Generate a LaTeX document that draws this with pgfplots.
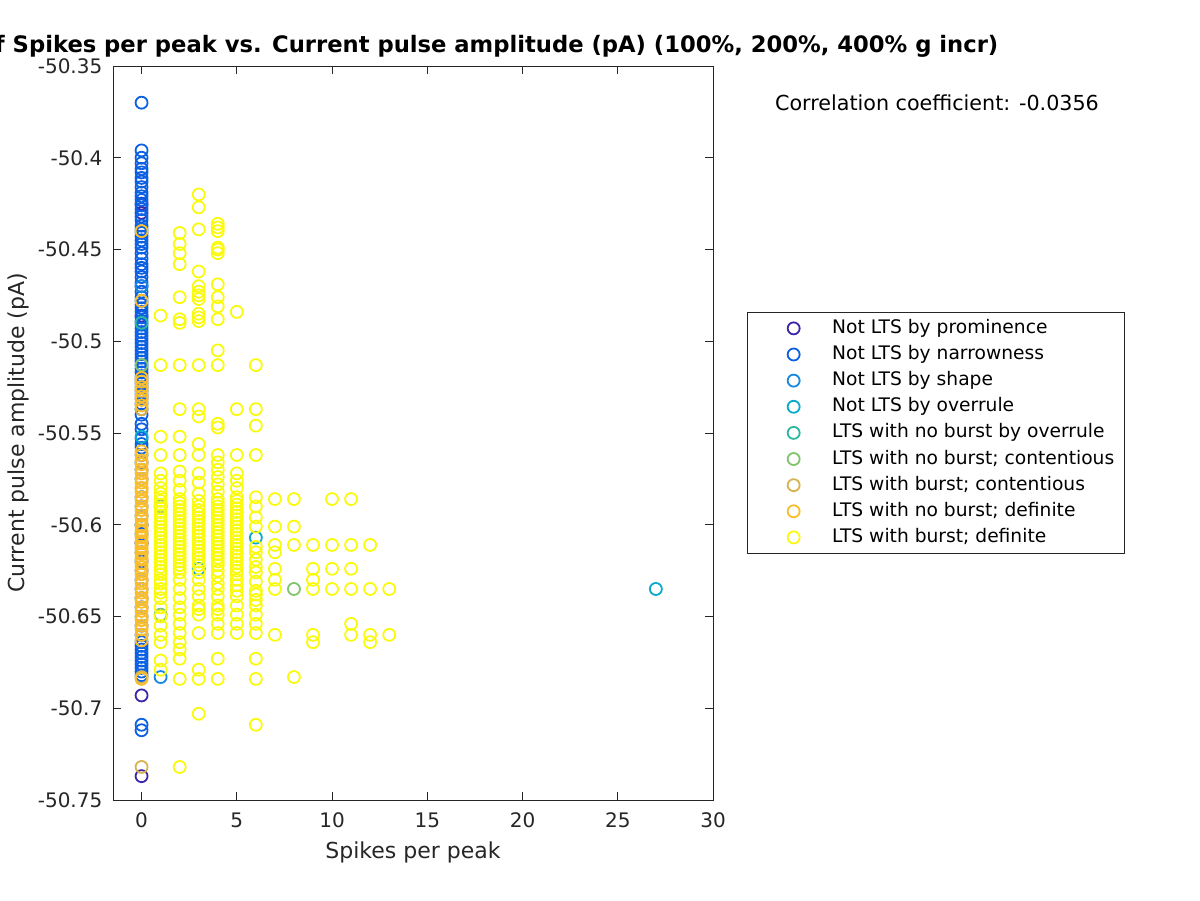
\documentclass[border=0pt]{standalone}
\usepackage{fontspec}
\setmainfont{DejaVu Sans}
\usepackage{pgfplots}
\pgfplotsset{compat=1.18}
\definecolor{cA}{RGB}{62,38,168}
\definecolor{cB}{RGB}{12,96,226}
\definecolor{cC}{RGB}{24,136,224}
\definecolor{cD}{RGB}{10,170,205}
\definecolor{cE}{RGB}{45,183,160}
\definecolor{cF}{RGB}{130,195,110}
\definecolor{cG}{RGB}{215,180,80}
\definecolor{cH}{RGB}{250,190,45}
\definecolor{cI}{RGB}{250,250,15}
\definecolor{axgray}{RGB}{38,38,38}
\begin{document}
\begin{tikzpicture}
\useasboundingbox (0,0) rectangle (900pt,675pt);
\clip (0,0) rectangle (900pt,675pt);
\begin{axis}[
  scale only axis,
  width=450pt, height=550.5pt,
  at={(84.75pt,75pt)}, anchor=south west,
  xmin=-1.5, xmax=30, ymin=-50.75, ymax=-50.35,
  xtick={0,5,...,30},
  ytick={-50.75,-50.7,-50.65,-50.6,-50.55,-50.5,-50.45,-50.4,-50.35},
  yticklabels={-50.75,-50.7,-50.65,-50.6,-50.55,-50.5,-50.45,-50.4,-50.35},
  scaled ticks=false,
  /pgf/number format/assume math mode=true,
  tick label style={font=\fontsize{15}{18}\selectfont, text=axgray},
  yticklabel style={xshift=-4.5pt},
  xticklabel style={yshift=-6pt},
  axis line style={axgray, line width=0.6pt},
  major tick style={axgray, line width=0.6pt},
  major tick length=6pt,
  xlabel={Spikes per peak},
  ylabel={Current pulse amplitude (pA)},
  label style={font=\fontsize{16.5}{19}\selectfont, text=axgray},
  xlabel style={at={(axis description cs:0.5,-0.0708)}, anchor=center},
  ylabel style={at={(axis description cs:-0.1583,0.5)}, anchor=center},
  every axis plot/.append style={only marks, mark=o, mark size=4.5pt, line width=1.35pt,
    legend image code/.code={\path (0pt,0pt) (53pt,0pt); \draw[##1] plot coordinates {(26.5pt,0pt)};}},
  legend cell align=left,
  legend style={at={(1.0567,0.6649)}, anchor=north west, draw=axgray, line width=0.6pt,
    font=\fontsize{14}{16}\selectfont, inner xsep=7.5pt, inner ysep=5.25pt,
    nodes={inner sep=0pt, text height=10.5pt, text depth=3pt}, row sep=6.1pt,
    /tikz/every odd column/.append style={column sep=1.75pt}},
]
% Not LTS by prominence
\addplot[cA] coordinates {(0,-50.425)(0,-50.430)(0,-50.486)(0,-50.610)(0,-50.693)(0,-50.737)};
% Not LTS by narrowness
\addplot[cB] coordinates {
(0,-50.370)(0,-50.396)(0,-50.400)(0,-50.403)(0,-50.406)(0,-50.408)(0,-50.411)(0,-50.413)(0,-50.416)
(0,-50.419)(0,-50.421)(0,-50.423)(0,-50.426)(0,-50.428)(0,-50.432)(0,-50.434)(0,-50.437)(0,-50.439)
(0,-50.441)(0,-50.443)(0,-50.445)(0,-50.447)(0,-50.449)(0,-50.452)(0,-50.455)(0,-50.458)(0,-50.460)
(0,-50.462)(0,-50.465)(0,-50.468)(0,-50.470)(0,-50.473)(0,-50.476)(0,-50.478)(0,-50.480)(0,-50.482)
(0,-50.484)(0,-50.487)(0,-50.489)(0,-50.491)(0,-50.493)(0,-50.495)(0,-50.497)(0,-50.499)(0,-50.501)
(0,-50.503)(0,-50.505)(0,-50.507)(0,-50.509)(0,-50.511)(0,-50.513)(0,-50.515)(0,-50.517)(0,-50.519)
(0,-50.521)(0,-50.523)(0,-50.525)(0,-50.527)(0,-50.529)(0,-50.531)(0,-50.534)(0,-50.537)(0,-50.540)
(0,-50.545)(0,-50.548)(0,-50.553)(0,-50.556)(0,-50.558)(0,-50.562)(0,-50.566)(0,-50.570)(0,-50.575)
(0,-50.585)(0,-50.590)(0,-50.595)(0,-50.600)(0,-50.605)(0,-50.610)(0,-50.615)(0,-50.620)(0,-50.625)
(0,-50.630)(0,-50.635)(0,-50.640)(0,-50.645)(0,-50.650)(0,-50.655)(0,-50.660)(0,-50.664)(0,-50.666)
(0,-50.668)(0,-50.670)(0,-50.672)(0,-50.674)(0,-50.676)(0,-50.678)(0,-50.680)(0,-50.682)
(0,-50.709)(0,-50.712)};
% Not LTS by shape
\addplot[cC] coordinates {(0,-50.470)(0,-50.600)(1,-50.683)};
% Not LTS by overrule
\addplot[cD] coordinates {(0,-50.552)(3,-50.624)(6,-50.607)(27,-50.635)};
% LTS with no burst by overrule
\addplot[cE] coordinates {(0,-50.490)};
% LTS with no burst; contentious
\addplot[cF] coordinates {(0,-50.513)(1,-50.590)(1,-50.649)(8,-50.635)};
% LTS with burst; contentious
\addplot[cG] coordinates {(0,-50.537)(0,-50.580)(0,-50.640)(0,-50.683)(0,-50.732)};
% LTS with no burst; definite
\addplot[cH] coordinates {
(0,-50.440)(0,-50.478)(0,-50.520)(0,-50.522)(0,-50.525)(0,-50.527)(0,-50.530)(0,-50.532)(0,-50.535)
(0,-50.560)(0,-50.562)(0,-50.565)(0,-50.567)(0,-50.570)(0,-50.572)(0,-50.575)(0,-50.577)(0,-50.580)
(0,-50.582)(0,-50.585)(0,-50.587)(0,-50.590)(0,-50.592)(0,-50.595)(0,-50.597)(0,-50.600)(0,-50.601)
(0,-50.603)(0,-50.604)(0,-50.606)(0,-50.607)(0,-50.609)(0,-50.610)(0,-50.612)(0,-50.613)(0,-50.615)
(0,-50.616)(0,-50.618)(0,-50.619)(0,-50.621)(0,-50.623)(0,-50.625)(0,-50.627)(0,-50.630)(0,-50.632)
(0,-50.635)(0,-50.637)(0,-50.640)(0,-50.642)(0,-50.645)(0,-50.647)(0,-50.650)(0,-50.652)(0,-50.655)
(0,-50.657)(0,-50.660)(0,-50.663)(0,-50.684)};
% LTS with burst; definite
\addplot[cI] coordinates {
(1,-50.486)(1,-50.513)(1,-50.552)(1,-50.562)(1,-50.572)(1,-50.576)(1,-50.580)(1,-50.583)(1,-50.585)
(1,-50.587)(1,-50.589)(1,-50.591)(1,-50.593)(1,-50.595)(1,-50.597)(1,-50.599)(1,-50.601)(1,-50.603)
(1,-50.605)(1,-50.607)(1,-50.609)(1,-50.611)(1,-50.613)(1,-50.615)(1,-50.617)(1,-50.619)(1,-50.621)
(1,-50.623)(1,-50.625)(1,-50.627)(1,-50.630)(1,-50.632)(1,-50.635)(1,-50.637)(1,-50.640)(1,-50.645)
(1,-50.650)(1,-50.655)(1,-50.660)(1,-50.664)(1,-50.674)(1,-50.679)
(2,-50.441)(2,-50.447)(2,-50.452)(2,-50.458)(2,-50.476)(2,-50.488)(2,-50.490)(2,-50.513)(2,-50.537)
(2,-50.552)(2,-50.562)(2,-50.571)(2,-50.576)(2,-50.581)(2,-50.586)(2,-50.588)(2,-50.590)(2,-50.592)
(2,-50.594)(2,-50.596)(2,-50.598)(2,-50.600)(2,-50.602)(2,-50.604)(2,-50.606)(2,-50.608)(2,-50.610)
(2,-50.612)(2,-50.614)(2,-50.616)(2,-50.618)(2,-50.620)(2,-50.622)(2,-50.624)(2,-50.626)(2,-50.630)
(2,-50.635)(2,-50.640)(2,-50.645)(2,-50.649)(2,-50.654)(2,-50.659)(2,-50.664)(2,-50.668)(2,-50.673)
(2,-50.684)(2,-50.732)
(3,-50.420)(3,-50.427)(3,-50.439)(3,-50.462)(3,-50.470)(3,-50.473)(3,-50.475)(3,-50.477)(3,-50.485)
(3,-50.487)(3,-50.489)(3,-50.513)(3,-50.537)(3,-50.541)(3,-50.556)(3,-50.562)(3,-50.572)(3,-50.577)
(3,-50.583)(3,-50.587)(3,-50.590)(3,-50.592)(3,-50.594)(3,-50.596)(3,-50.598)(3,-50.600)(3,-50.602)
(3,-50.604)(3,-50.606)(3,-50.608)(3,-50.610)(3,-50.612)(3,-50.614)(3,-50.616)(3,-50.618)(3,-50.620)
(3,-50.622)(3,-50.626)(3,-50.630)(3,-50.635)(3,-50.639)(3,-50.644)(3,-50.646)(3,-50.649)(3,-50.659)
(3,-50.679)(3,-50.684)(3,-50.703)
(4,-50.436)(4,-50.438)(4,-50.440)(4,-50.449)(4,-50.450)(4,-50.452)(4,-50.469)(4,-50.476)(4,-50.481)
(4,-50.488)(4,-50.505)(4,-50.513)(4,-50.545)(4,-50.547)(4,-50.562)(4,-50.566)(4,-50.570)(4,-50.574)
(4,-50.578)(4,-50.582)(4,-50.586)(4,-50.588)(4,-50.590)(4,-50.592)(4,-50.594)(4,-50.596)(4,-50.598)
(4,-50.600)(4,-50.602)(4,-50.604)(4,-50.606)(4,-50.608)(4,-50.610)(4,-50.612)(4,-50.614)(4,-50.616)
(4,-50.618)(4,-50.620)(4,-50.622)(4,-50.625)(4,-50.628)(4,-50.632)(4,-50.635)(4,-50.639)(4,-50.644)
(4,-50.646)(4,-50.649)(4,-50.654)(4,-50.659)(4,-50.673)(4,-50.684)
(5,-50.484)(5,-50.537)(5,-50.562)(5,-50.572)(5,-50.576)(5,-50.580)(5,-50.585)(5,-50.587)(5,-50.589)
(5,-50.591)(5,-50.593)(5,-50.595)(5,-50.597)(5,-50.599)(5,-50.601)(5,-50.603)(5,-50.605)(5,-50.607)
(5,-50.609)(5,-50.611)(5,-50.613)(5,-50.615)(5,-50.617)(5,-50.619)(5,-50.621)(5,-50.623)(5,-50.625)
(5,-50.627)(5,-50.630)(5,-50.633)(5,-50.636)(5,-50.639)(5,-50.644)(5,-50.649)(5,-50.654)(5,-50.659)
(6,-50.513)(6,-50.537)(6,-50.546)(6,-50.562)(6,-50.585)(6,-50.590)(6,-50.596)(6,-50.601)(6,-50.612)
(6,-50.615)(6,-50.619)(6,-50.623)(6,-50.626)(6,-50.631)(6,-50.636)(6,-50.638)(6,-50.641)(6,-50.644)
(6,-50.649)(6,-50.654)(6,-50.659)(6,-50.673)(6,-50.684)(6,-50.709)
(7,-50.586)(7,-50.601)(7,-50.611)(7,-50.615)(7,-50.624)(7,-50.630)(7,-50.635)(7,-50.660)
(8,-50.586)(8,-50.601)(8,-50.611)(8,-50.683)
(9,-50.611)(9,-50.624)(9,-50.630)(9,-50.635)(9,-50.660)(9,-50.664)
(10,-50.586)(10,-50.611)(10,-50.624)(10,-50.635)
(11,-50.586)(11,-50.611)(11,-50.624)(11,-50.635)(11,-50.654)(11,-50.660)
(12,-50.611)(12,-50.635)(12,-50.660)(12,-50.664)
(13,-50.635)(13,-50.660)};
\legend{Not LTS by prominence, Not LTS by narrowness, Not LTS by shape, Not LTS by overrule,
LTS with no burst by overrule, LTS with no burst; contentious, LTS with burst; contentious,
LTS with no burst; definite, LTS with burst; definite}
\end{axis}
\node[anchor=base east, font=\fontsize{17}{20}\selectfont\bfseries] at (752.25pt,635.25pt)
  {of Spikes per peak vs. Current pulse amplitude (pA) (100\%, 200\%, 400\% g incr)};
\node[anchor=center, font=\fontsize{15.5}{18}\selectfont] at (702.75pt,597.75pt)
  {Correlation coefficient: -0.0356};
\end{tikzpicture}
\end{document}
